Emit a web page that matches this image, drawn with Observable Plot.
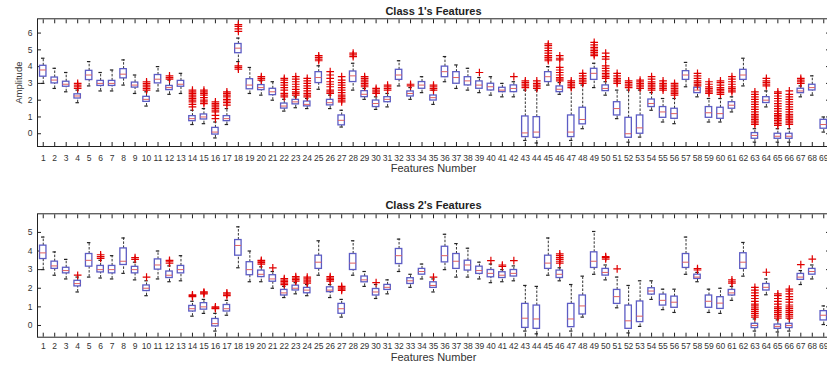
<!DOCTYPE html>
<html><head><meta charset="utf-8">
<script src="https://cdn.jsdelivr.net/npm/d3@7"></script>
<script src="https://cdn.jsdelivr.net/npm/@observablehq/plot@0.6"></script>
<style>body{margin:0;background:#fff}#c svg{display:block}</style>
</head><body><div id="c"></div>
<script>
const features = d3.range(1, 70);
const xLabel = "Features Number";
const yLabel = "Amplitude";
const titles = ["Class 1's Features", "Class 2's Features"];
const c1Ticks = [0, 1, 2, 3, 4, 5, 6];
const c2Ticks = [0, 1, 2, 3, 4, 5];

// Class 1 box statistics (features 1..69)
const c1Q1 = [3.4,3.0,2.8,2.1,3.2,2.85,2.85,3.3,2.75,1.9,3.0,2.6,2.8,0.75,0.85,-0.05,0.75,4.8,2.65,2.6,2.3,1.5,1.75,1.63,3.02,1.69,0.5,3.08,2.18,1.59,1.88,3.21,2.22,2.68,1.98,3.37,2.98,2.88,2.68,2.58,2.48,2.48,-0.2,-0.24,3.08,2.48,-0.2,0.56,3.21,2.54,1.09,-0.24,0.0,1.59,0.95,0.89,3.21,2.42,0.95,0.89,1.49,3.21,-0.3,1.83,-0.3,-0.3,2.42,2.58,0.3];
const c1Med = [3.8,3.2,2.95,2.25,3.5,3.0,3.0,3.55,2.9,2.05,3.25,2.75,2.95,0.9,1.0,0.1,0.9,5.1,2.9,2.75,2.5,1.65,1.9,1.75,3.35,1.85,0.8,3.45,2.35,1.8,2.05,3.5,2.4,2.9,2.15,3.7,3.35,3.15,2.9,2.8,2.6,2.7,0.05,0.1,3.4,2.65,0.1,0.85,3.6,2.7,1.5,0.0,0.35,1.8,1.3,1.2,3.5,2.6,1.25,1.2,1.7,3.5,-0.1,2.0,-0.15,-0.15,2.55,2.75,0.55];
const c1Q3 = [4.05,3.35,3.1,2.35,3.75,3.15,3.15,3.85,3.05,2.2,3.5,2.85,3.15,1.05,1.15,0.35,1.05,5.35,3.25,2.9,2.68,1.8,2.02,1.92,3.67,2.02,1.09,3.71,2.54,1.98,2.18,3.81,2.52,3.08,2.28,4.0,3.67,3.37,3.12,2.98,2.74,2.88,1.03,0.99,3.67,2.82,1.09,1.55,3.87,2.88,1.88,0.95,1.09,2.04,1.59,1.49,3.73,2.74,1.59,1.55,1.88,3.81,0.04,2.18,0.0,0.0,2.68,2.92,0.83];
const c1Lo = [3.0,2.7,2.5,1.85,2.85,2.55,2.55,2.9,2.4,1.65,2.55,2.35,2.4,0.55,0.6,-0.25,0.55,4.3,2.4,2.3,2.0,1.35,1.55,1.5,2.65,1.5,0.4,2.6,2.05,1.45,1.6,2.85,2.05,2.45,1.75,3.1,2.7,2.6,2.45,2.3,2.2,2.2,-0.4,-0.55,2.9,2.35,-0.4,0.3,2.75,2.3,0.9,-0.5,-0.2,1.4,0.7,0.6,2.8,2.2,0.7,0.7,1.3,2.85,-0.5,1.6,-0.5,-0.5,2.2,2.3,0.1];
const c1Hi = [4.5,3.9,3.65,2.6,4.3,3.65,3.8,4.4,3.5,2.5,4.0,3.2,3.6,1.4,1.5,0.7,1.5,5.7,3.95,3.15,3.1,2.05,2.2,2.1,4.05,2.3,1.4,4.2,2.7,2.2,2.4,4.35,2.75,3.4,2.6,4.6,4.1,3.9,3.35,3.4,3.0,3.1,2.6,2.6,4.0,3.05,2.75,2.9,4.2,3.1,2.6,2.6,2.6,2.45,2.1,2.1,4.25,2.9,2.1,2.1,2.2,4.5,0.3,2.55,0.3,0.3,2.85,3.45,1.0];
const c1Outliers = [
  [4,[2.7,2.8,2.9,3.0]],
  [10,[2.6,2.7,2.8,2.9,3.0,3.1]],
  [12,[3.25,3.35,3.45]],
  [14,[1.6,1.75,1.9,2.0,2.1,2.2,2.3,2.4,2.5,2.6]],
  [15,[1.8,1.9,2.0,2.15,2.3,2.4,2.5,2.6]],
  [16,[0.9,1.1,1.3,1.4,1.5,1.6,1.7,1.8,1.9]],
  [17,[1.7,1.85,1.95,2.05,2.2,2.3,2.4,2.5]],
  [18,[3.85,3.95,4.05,6.1,6.25,6.4,6.5]],
  [20,[3.2,3.3,3.4]],
  [22,[2.2,2.3,2.4,2.6,2.75,2.9,3.05,3.2,3.3]],
  [23,[2.3,2.4,2.5,2.65,2.8,2.95,3.1,3.25,3.4]],
  [24,[2.2,2.3,2.4,2.55,2.7,2.85,3.0,3.15,3.3]],
  [25,[4.35,4.45,4.55,4.65]],
  [26,[2.4,2.5,2.6,2.8,2.95,3.1,3.3,3.5,3.7]],
  [27,[1.9,2.0,2.1,2.2,2.3,2.45,2.6,2.75,2.9,3.05,3.2,3.4]],
  [28,[4.6,4.7,4.8]],
  [29,[2.8,2.9,3.0,3.1,3.2,3.3,3.4]],
  [30,[2.4,2.5,2.6,2.7]],
  [31,[2.6,2.7,2.8,2.9]],
  [33,[2.85,2.95]],
  [35,[2.6,2.7,2.8,2.9]],
  [39,[3.65]],
  [42,[3.4]],
  [43,[2.75,2.85,2.95,3.05,3.15]],
  [44,[2.7,2.8,2.9,3.0,3.15]],
  [45,[4.35,4.45,4.55,4.65,4.8,4.95,5.1,5.25,5.35]],
  [46,[3.15,3.25,3.35,3.5,3.65,3.8,3.95,4.4,4.5,4.65]],
  [47,[2.75,2.85,2.95,3.05,3.15]],
  [48,[3.0,3.1,3.2,3.3,3.45,3.6]],
  [49,[4.65,4.75,4.85,4.95,5.05,5.15,5.3,5.45]],
  [50,[3.3,3.4,3.5,3.6,3.75,3.9,4.05,4.45,4.6,4.8]],
  [51,[3.0,3.1,3.2,3.3,3.45,3.6]],
  [52,[2.75,2.85,2.95,3.05,3.15]],
  [53,[2.7,2.8,2.9,3.0,3.1,3.2]],
  [54,[2.6,2.7,2.8,2.9,3.0,3.1,3.25,3.4]],
  [55,[2.6,2.7,2.8,2.9,3.0,3.15]],
  [56,[2.3,2.4,2.5,2.6,2.7,2.8,2.9,3.0]],
  [58,[2.85,2.95,3.05,3.15,3.3,3.45,3.6]],
  [59,[2.4,2.5,2.6,2.7,2.8,2.95,3.1]],
  [60,[2.35,2.45,2.55,2.65,2.75,2.9,3.05,3.15]],
  [61,[2.5,2.6,2.7,2.8,2.95,3.1,3.25,3.4]],
  [63,[0.55,0.65,0.75,0.85,0.95,1.05,1.15,1.3,1.45,1.6,1.75,1.9,2.05,2.2,2.35,2.5]],
  [64,[2.85,2.95,3.05,3.15,3.3]],
  [65,[0.5,0.6,0.7,0.8,0.9,1.0,1.1,1.2,1.35,1.5,1.65,1.8,1.95,2.1,2.25,2.4,2.5]],
  [66,[0.55,0.65,0.75,0.85,0.95,1.05,1.15,1.3,1.45,1.6,1.75,1.9,2.05,2.2,2.35,2.55]],
  [67,[3.0,3.1,3.2,3.3]]
];

// Class 2 box statistics (features 1..69)
const c2Q1 = [3.57,3.04,2.8,2.1,3.16,2.85,2.8,3.25,2.8,1.85,3.0,2.55,2.8,0.75,0.85,-0.05,0.75,3.75,2.7,2.6,2.35,1.61,1.88,1.73,3.04,1.79,0.63,2.98,2.32,1.61,1.91,3.3,2.23,2.73,2.02,3.39,3.04,2.95,2.77,2.59,2.55,2.63,-0.13,-0.18,3.04,2.55,-0.09,0.59,3.09,2.68,1.16,-0.18,0.18,1.66,1.07,0.95,3.09,2.5,0.95,0.89,1.61,3.04,-0.14,1.88,-0.18,-0.14,2.45,2.73,0.27];
const c2Med = [3.9,3.2,2.95,2.25,3.5,3.0,3.0,3.45,3.0,2.0,3.25,2.7,3.0,0.9,1.0,0.1,0.9,4.3,3.0,2.75,2.5,1.75,2.0,1.9,3.4,1.9,0.9,3.35,2.45,1.8,2.05,3.75,2.4,2.9,2.15,3.75,3.45,3.25,2.95,2.8,2.7,2.8,0.39,0.35,3.35,2.75,0.35,1.05,3.45,2.85,1.55,0.25,0.5,1.85,1.35,1.25,3.4,2.6,1.3,1.2,1.75,3.4,0.0,2.05,-0.05,0.0,2.6,2.9,0.55];
const c2Q3 = [4.29,3.43,3.1,2.4,3.84,3.2,3.2,4.14,3.15,2.15,3.55,2.9,3.2,1.05,1.2,0.35,1.1,4.59,3.4,2.95,2.7,1.91,2.14,2.02,3.75,2.05,1.16,3.84,2.63,1.96,2.18,4.11,2.54,3.04,2.32,4.23,3.84,3.48,3.16,2.98,2.86,2.98,1.16,1.07,3.75,2.95,1.16,1.61,3.93,3.04,1.91,1.07,1.29,2.0,1.66,1.55,3.84,2.73,1.61,1.52,1.91,3.88,0.09,2.23,0.05,0.09,2.77,3.04,0.77];
const c2Lo = [3.0,2.7,2.5,1.8,2.6,2.55,2.5,2.8,2.45,1.6,2.5,2.35,2.4,0.5,0.65,-0.3,0.55,3.1,2.35,2.35,2.0,1.5,1.7,1.6,2.7,1.5,0.45,2.7,2.1,1.45,1.7,2.9,2.05,2.5,1.8,3.0,2.6,2.6,2.5,2.3,2.35,2.4,-0.3,-0.45,2.7,2.4,-0.3,0.45,2.75,2.45,0.95,-0.4,-0.05,1.4,0.85,0.7,2.75,2.35,0.7,0.65,1.35,2.65,-0.3,1.65,-0.35,-0.3,2.2,2.5,0.05];
const c2Hi = [4.75,3.95,3.55,2.6,4.45,3.5,3.75,4.7,3.4,2.4,4.0,3.2,3.75,1.3,1.4,0.65,1.35,5.3,4.0,3.15,2.9,2.1,2.3,2.2,4.55,2.2,1.4,4.55,2.9,2.2,2.45,4.64,2.75,3.3,2.5,4.9,4.4,4.15,3.4,3.3,3.0,3.2,2.15,2.1,4.7,3.1,2.2,2.65,5.05,3.25,2.6,2.15,2.4,2.4,1.95,1.95,4.75,2.85,1.95,2.0,2.1,4.46,0.35,2.5,0.3,0.35,2.95,3.25,1.05];
const c2Outliers = [
  [4,[2.7]],
  [6,[3.6,3.7,3.8]],
  [9,[3.55,3.65]],
  [10,[2.6]],
  [12,[3.35,3.45,3.5]],
  [14,[1.55,1.6,1.65]],
  [15,[1.7,1.75,1.8]],
  [16,[0.9,0.95,1.0]],
  [17,[1.6,1.68,1.75]],
  [20,[3.3,3.38,3.45,3.5]],
  [21,[3.1]],
  [22,[2.2,2.28,2.36,2.44,2.52]],
  [23,[2.38,2.46,2.54,2.62]],
  [24,[2.27,2.35,2.43,2.5,2.6]],
  [26,[2.38,2.46,2.54,2.62]],
  [27,[1.88,1.95,2.02,2.1]],
  [30,[2.3]],
  [35,[2.6]],
  [40,[3.48]],
  [41,[3.18,3.25]],
  [42,[3.48]],
  [46,[3.35,3.45,3.55,3.65,3.75,3.85]],
  [50,[3.57,3.65,3.7]],
  [51,[3.04]],
  [58,[2.98,3.05]],
  [61,[2.27,2.35,2.45]],
  [63,[0.45,0.55,0.65,0.75,0.85,0.95,1.05,1.15,1.3,1.45,1.6,1.75,1.9,2.05]],
  [64,[2.86]],
  [65,[0.4,0.5,0.6,0.7,0.8,0.9,1.0,1.15,1.3,1.45,1.6,1.7]],
  [66,[0.4,0.5,0.6,0.7,0.8,0.9,1.0,1.1,1.25,1.4,1.55,1.7,1.85,1.95]],
  [67,[3.27]],
  [68,[3.57]]
];

function boxRows(q1, med, q3, lo, hi) {
  return features.map((f, i) => ({f, q1: q1[i], med: med[i], q3: q3[i], lo: lo[i], hi: hi[i]}));
}
function outRows(list) {
  return list.flatMap(([f, vals]) => vals.map(v => ({f, v})));
}

const FONT = "'Liberation Sans', Arial, Helvetica, sans-serif";
const INK = "#333";

function panel(o) {
  const rows = o.rows;
  return Plot.plot({
    width: 827,
    height: o.height,
    marginLeft: 37,
    marginRight: -2,
    marginTop: o.marginTop,
    marginBottom: o.marginBottom,
    style: {fontFamily: FONT, background: "white", overflow: "hidden"},
    x: {type: "band", domain: features, paddingInner: 0.44, paddingOuter: 0.22},
    y: {domain: o.yDomain},
    marks: [
      Plot.frame({stroke: "#222", strokeWidth: 1}),
      Plot.axisX({anchor: "bottom", tickSize: -4, tickPadding: o.xPad, fontSize: 8.5, fill: INK, stroke: "#222", label: null}),
      Plot.axisX({anchor: "top", tickSize: -4, fill: "none", stroke: "#222", label: null}),
      Plot.axisY(o.yTicks, {anchor: "left", tickSize: -4, tickPadding: 9, fontSize: 8.5, fill: INK, stroke: "#222", label: null}),
      Plot.axisY(o.yTicks, {anchor: "right", tickSize: -4, fill: "none", stroke: "#222", label: null}),
      Plot.ruleX(rows, {x: "f", y1: "lo", y2: "q1", stroke: "#333", strokeWidth: 1, strokeDasharray: "2.5,1.5"}),
      Plot.ruleX(rows, {x: "f", y1: "q3", y2: "hi", stroke: "#333", strokeWidth: 1, strokeDasharray: "2.5,1.5"}),
      Plot.tickY(rows, {x: "f", y: "lo", stroke: "#222", strokeWidth: 1.2, insetLeft: 1.5, insetRight: 1.5}),
      Plot.tickY(rows, {x: "f", y: "hi", stroke: "#222", strokeWidth: 1.2, insetLeft: 1.5, insetRight: 1.5}),
      Plot.barY(rows, {x: "f", y1: "q1", y2: "q3", fill: "white", stroke: "#5c5cc4", strokeWidth: 1.3}),
      Plot.tickY(rows, {x: "f", y: "med", stroke: "#e06060", strokeWidth: 1}),
      Plot.dot(o.outs, {x: "f", y: "v", symbol: "plus", r: 2.6, stroke: "#e00000", strokeWidth: 1.2}),
      Plot.text([o.title], {frameAnchor: "top", dy: o.titleDy, fontSize: 11, fontWeight: "bold", fill: "#222", lineAnchor: "middle"}),
      Plot.text([xLabel], {frameAnchor: "bottom", dy: o.xLabelDy, fontSize: 11, fill: INK, lineAnchor: "middle"}),
      o.showY ? Plot.text([yLabel], {frameAnchor: "left", dx: -19, rotate: -90, fontSize: 9.5, fill: INK, textAnchor: "middle"}) : null
    ]
  });
}

const root = document.getElementById("c");
root.append(panel({
  rows: boxRows(c1Q1, c1Med, c1Q3, c1Lo, c1Hi),
  outs: outRows(c1Outliers),
  title: titles[0],
  height: 190, marginTop: 18.3, marginBottom: 44,
  yDomain: [-0.76, 6.85], yTicks: c1Ticks,
  xPad: 12, titleDy: -7.6, xLabelDy: 22.3, showY: true
}));
root.append(panel({
  rows: boxRows(c2Q1, c2Med, c2Q3, c2Lo, c2Hi),
  outs: outRows(c2Outliers),
  title: titles[1],
  height: 177, marginTop: 23.3, marginBottom: 30.3,
  yDomain: [-0.63, 6.0], yTicks: c2Ticks,
  xPad: 10, titleDy: -8.3, xLabelDy: 20.3, showY: false
}));
</script>
</body></html>
